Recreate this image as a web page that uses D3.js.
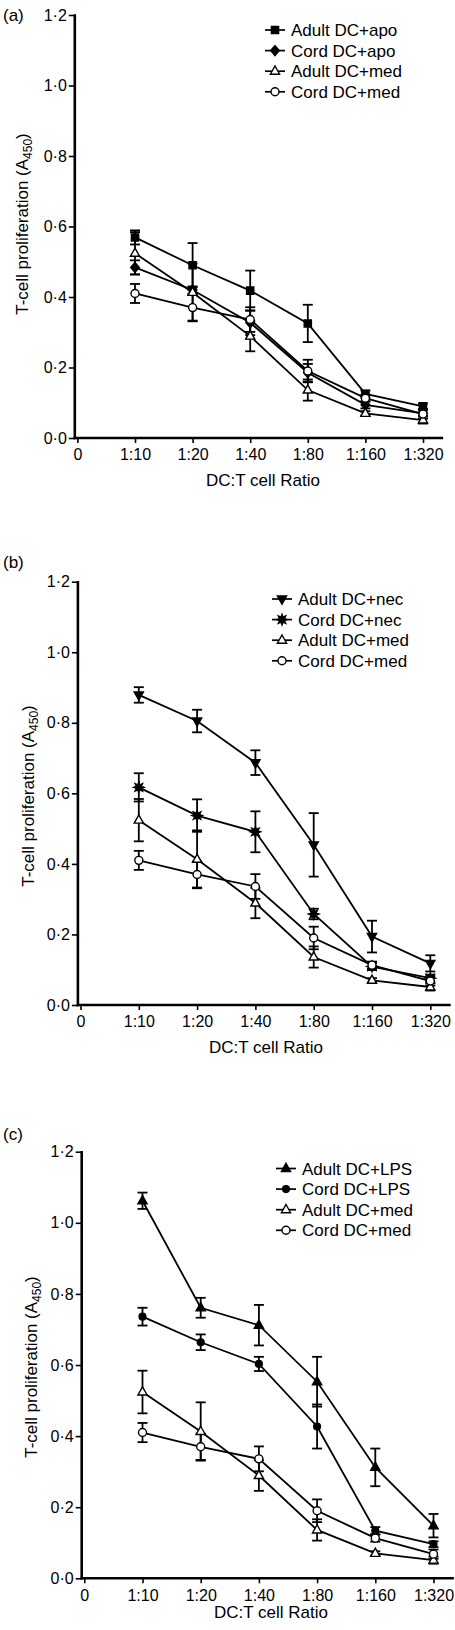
<!DOCTYPE html>
<html>
<head>
<meta charset="utf-8">
<script src="https://cdn.jsdelivr.net/npm/d3@7"></script>
<style>
  html, body { margin: 0; padding: 0; background: #fff; }
  svg { display: block; font-family: "Liberation Sans", Arial, Helvetica, sans-serif; }
</style>
</head>
<body>
<svg id="chart" width="455" height="1630"></svg>
<script>
// ---------------- DATA ----------------
const ratios = ["1:10", "1:20", "1:40", "1:80", "1:160", "1:320"];
const xTickLabels = ["0"].concat(ratios);
const yTickValues = [0, 0.2, 0.4, 0.6, 0.8, 1.0, 1.2];
const yTickLabels = ["0·0", "0·2", "0·4", "0·6", "0·8", "1·0", "1·2"];
const panelLabels = ["(a)", "(b)", "(c)"];
const xTitle = "DC:T cell Ratio";

// medium controls (same in every panel)
const adultMed    = [0.524, 0.413, 0.289, 0.136, 0.070, 0.051];
const adultMedErr = [0.060, 0.082, 0.043, 0.030, 0.006, 0.010];
const cordMed     = [0.410, 0.370, 0.336, 0.190, 0.113, 0.068];
const cordMedErr  = [0.027, 0.037, 0.035, 0.032, 0.010, 0.013];

// panel (a): apoptotic
const adultApo    = [0.569, 0.490, 0.418, 0.325, 0.125, 0.090];
const adultApoErr = [0.020, 0.063, 0.057, 0.053, 0.010, 0.008];
const cordApo     = [0.484, 0.420, 0.327, 0.185, 0.094, 0.070];
const cordApoErr  = [0.020, 0.010, 0.035, 0.025, 0.010, 0.008];

// panel (b): necrotic
const adultNec    = [0.879, 0.805, 0.687, 0.454, 0.194, 0.118];
const adultNecErr = [0.022, 0.032, 0.035, 0.090, 0.045, 0.023];
const cordNec     = [0.617, 0.537, 0.491, 0.258, 0.109, 0.076];
const cordNecErr  = [0.040, 0.046, 0.058, 0.015, 0.010, 0.010];

// panel (c): LPS
const adultLps    = [1.062, 0.761, 0.712, 0.553, 0.312, 0.148];
const adultLpsErr = [0.023, 0.028, 0.057, 0.070, 0.053, 0.033];
const cordLps     = [0.736, 0.664, 0.603, 0.427, 0.134, 0.096];
const cordLpsErr  = [0.025, 0.022, 0.020, 0.062, 0.010, 0.008];

const seriesA = [
  {name: "Adult DC+apo", values: adultApo, errors: adultApoErr, marker: "square"},
  {name: "Cord DC+apo",  values: cordApo,  errors: cordApoErr,  marker: "diamond"},
  {name: "Adult DC+med", values: adultMed, errors: adultMedErr, marker: "triOpen"},
  {name: "Cord DC+med",  values: cordMed,  errors: cordMedErr,  marker: "circOpen"}
];
const seriesB = [
  {name: "Adult DC+nec", values: adultNec, errors: adultNecErr, marker: "triDown"},
  {name: "Cord DC+nec",  values: cordNec,  errors: cordNecErr,  marker: "star"},
  {name: "Adult DC+med", values: adultMed, errors: adultMedErr, marker: "triOpen"},
  {name: "Cord DC+med",  values: cordMed,  errors: cordMedErr,  marker: "circOpen"}
];
const seriesC = [
  {name: "Adult DC+LPS", values: adultLps, errors: adultLpsErr, marker: "triFilled"},
  {name: "Cord DC+LPS",  values: cordLps,  errors: cordLpsErr,  marker: "circFilled"},
  {name: "Adult DC+med", values: adultMed, errors: adultMedErr, marker: "triOpen"},
  {name: "Cord DC+med",  values: cordMed,  errors: cordMedErr,  marker: "circOpen"}
];

// ---------------- LAYOUT ----------------
const layouts = [
  {top: 15,    bottom: 438,    x0: 77.4, step: 57.6, labelY: 21,   titleX: 22, titleY: 224,  xTitleX: 263, xTitleY: 486,  legX: 265, legY: 30},
  {top: 581.7, bottom: 1005,   x0: 80.5, step: 58.3, labelY: 568,  titleX: 28, titleY: 796,  xTitleX: 266, xTitleY: 1053, legX: 272, legY: 599},
  {top: 1151.7,bottom: 1578.3, x0: 84.3, step: 58.2, labelY: 1140, titleX: 31, titleY: 1367, xTitleX: 271, xTitleY: 1618, legX: 276, legY: 1168.5}
];
const allSeries = [seriesA, seriesB, seriesC];

const svg = d3.select("#chart");

// marker paths
function markerPath(type) {
  switch (type) {
    case "square": return "M-3.6,-3.6H3.6V3.6H-3.6Z";
    case "diamond": return "M0,-5L4.3,0L0,5L-4.3,0Z";
    case "triOpen":
    case "triFilled": return "M0,-5.2L4.6,3L-4.6,3Z";
    case "triDown": return "M0,5.2L4.6,-3L-4.6,-3Z";
    case "circOpen": return d3.symbol(d3.symbolCircle, 50)();
    case "circFilled": return d3.symbol(d3.symbolCircle, 36)();
    case "star": {
      const pts = [];
      for (let i = 0; i < 16; i++) {
        const r = i % 2 === 0 ? 5.2 : 2.6;
        const a = Math.PI * i / 8 - Math.PI / 2;
        pts.push([r * Math.cos(a), r * Math.sin(a)]);
      }
      return "M" + pts.map(p => p[0].toFixed(2) + "," + p[1].toFixed(2)).join("L") + "Z";
    }
  }
}
function markerFill(type) {
  return (type === "triOpen" || type === "circOpen") ? "#fff" : "#000";
}

allSeries.forEach((series, pi) => {
  const L = layouts[pi];
  const g = svg.append("g");
  const x = d3.scaleLinear().domain([0, 6.35]).range([L.x0, L.x0 + 6.35 * L.step]);
  const y = d3.scaleLinear().domain([0, 1.2]).range([L.bottom, L.top]);
  const axisX = L.x0 - 2.6;

  // panel label
  g.append("text").attr("x", 3).attr("y", L.labelY).attr("font-size", 17).text(panelLabels[pi]);

  // y axis
  const yAxis = d3.axisLeft(y).tickValues(yTickValues)
    .tickFormat((d, i) => yTickLabels[i]).tickSize(6).tickPadding(2).tickSizeOuter(0);
  const gy = g.append("g").attr("transform", `translate(${axisX},0)`).call(yAxis);
  gy.select(".domain").remove();
  gy.selectAll(".tick line").attr("stroke", "#000").attr("stroke-width", 1.6);
  gy.selectAll(".tick text").attr("font-size", 16).attr("fill", "#000")
    .attr("font-family", "Liberation Sans, Arial, sans-serif");

  // x axis
  const xAxis = d3.axisBottom(x).tickValues(d3.range(7))
    .tickFormat((d, i) => xTickLabels[i]).tickSize(5).tickPadding(6).tickSizeOuter(0);
  const gx = g.append("g").attr("transform", `translate(0,${L.bottom})`).call(xAxis);
  gx.select(".domain").remove();
  gx.selectAll(".tick line").attr("stroke", "#000").attr("stroke-width", 1.6);
  gx.selectAll(".tick text").attr("font-size", 16).attr("fill", "#000")
    .attr("font-family", "Liberation Sans, Arial, sans-serif");

  // axis lines
  g.append("line").attr("x1", axisX).attr("x2", axisX)
    .attr("y1", y(0) + 1.2).attr("y2", y(1.2) - 0.8)
    .attr("stroke", "#000").attr("stroke-width", 2.6);
  g.append("line").attr("x1", axisX - 1.3).attr("x2", x(6.35))
    .attr("y1", y(0)).attr("y2", y(0))
    .attr("stroke", "#000").attr("stroke-width", 2.6);

  // titles
  const yt = g.append("text")
    .attr("transform", `translate(${L.titleX},${L.titleY}) rotate(-90)`)
    .attr("text-anchor", "middle").attr("dy", "0.35em").attr("font-size", 17);
  yt.append("tspan").text("T-cell proliferation (A");
  yt.append("tspan").attr("font-size", 12).attr("dy", 4).text("450");
  yt.append("tspan").attr("dy", -4).text(")");

  g.append("text").attr("x", L.xTitleX).attr("y", L.xTitleY)
    .attr("text-anchor", "middle").attr("font-size", 17).text(xTitle);

  // data lines
  const line = d3.line().x((d, i) => x(i + 1)).y(d => y(d));
  series.forEach(s => {
    g.append("path").attr("d", line(s.values)).attr("fill", "none")
      .attr("stroke", "#000").attr("stroke-width", 1.8);
  });
  // error bars
  series.forEach(s => {
    s.values.forEach((v, i) => {
      const e = s.errors[i];
      const cx = x(i + 1);
      const eb = g.append("g").attr("stroke", "#000").attr("stroke-width", 1.8);
      eb.append("line").attr("x1", cx).attr("x2", cx).attr("y1", y(v - e)).attr("y2", y(v + e));
      eb.append("line").attr("x1", cx - 5).attr("x2", cx + 5).attr("y1", y(v + e)).attr("y2", y(v + e));
      eb.append("line").attr("x1", cx - 5).attr("x2", cx + 5).attr("y1", y(v - e)).attr("y2", y(v - e));
    });
  });
  // markers
  series.forEach(s => {
    g.selectAll(null).data(s.values).enter().append("path")
      .attr("d", markerPath(s.marker))
      .attr("transform", (d, i) => `translate(${x(i + 1)},${y(d)})`)
      .attr("fill", markerFill(s.marker)).attr("stroke", "#000").attr("stroke-width", 1.4);
  });

  // legend
  series.forEach((s, i) => {
    const ly = L.legY + i * 20.6;
    const lg = g.append("g").attr("transform", `translate(${L.legX},${ly})`);
    lg.append("line").attr("x1", 0).attr("x2", 20).attr("y1", 0).attr("y2", 0)
      .attr("stroke", "#000").attr("stroke-width", 1.7);
    lg.append("path").attr("d", markerPath(s.marker)).attr("transform", "translate(10,0)")
      .attr("fill", markerFill(s.marker)).attr("stroke", "#000").attr("stroke-width", 1.4);
    lg.append("text").attr("x", 26).attr("dy", "0.36em").attr("font-size", 17).text(s.name);
  });
});
</script>
</body>
</html>
